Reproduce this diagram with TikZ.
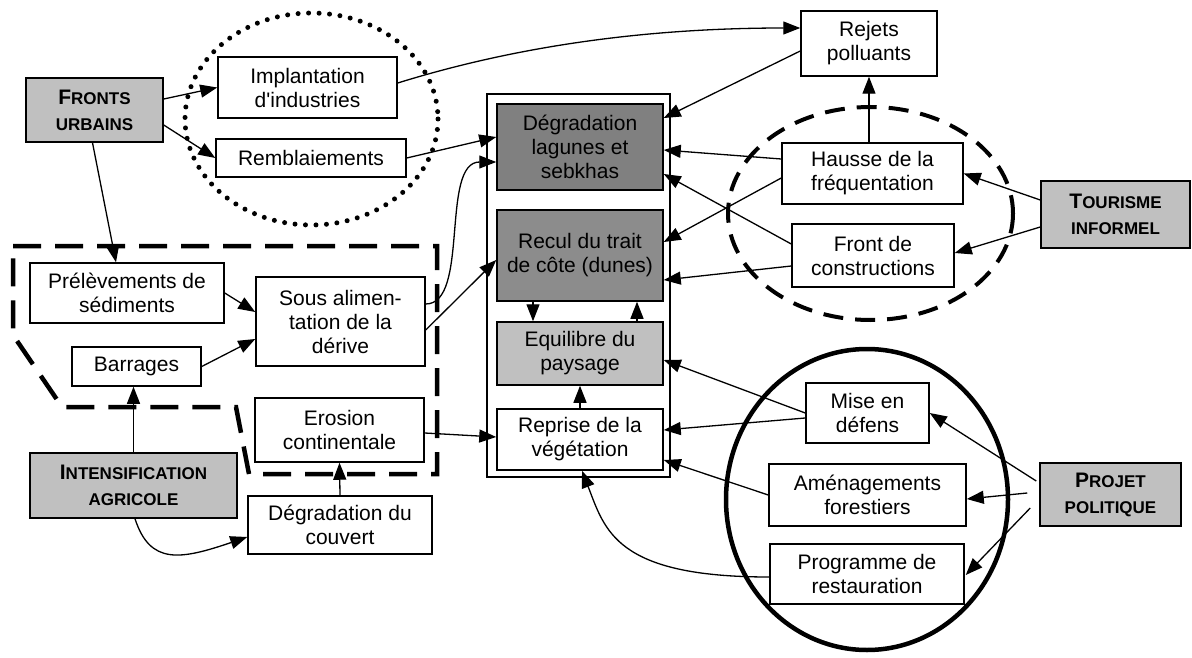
\documentclass[tikz,border=0pt]{standalone}
\usepackage{fontspec}
\newfontfamily\dfont{Liberation Sans}
\usetikzlibrary{arrows.meta,calc}
\definecolor{lgray}{RGB}{192,192,192}
\definecolor{dgray}{RGB}{128,128,128}
\definecolor{mgray}{RGB}{140,140,140}
\newcommand\hdr[2]{{\fontsize{21}{26}\selectfont #1}#2}
\begin{document}
\begin{tikzpicture}[x=1pt,y=-1pt,
  box/.style={draw,fill=white,line width=1.5pt,inner sep=0pt,align=center,font=\dfont\fontsize{21}{24}\selectfont},
  hbox/.style={box,fill=lgray,font=\dfont\bfseries\fontsize{17}{26}\selectfont},
  arr/.style={-{Triangle[length=17pt,width=13pt]},line width=1.3pt},
  ln/.style={line width=1.3pt}]
\useasboundingbox (0,0) rectangle (1192,658);

% groupings
\draw[line width=5pt,dash pattern=on 0pt off 10.5pt,line cap=round] (311.5,119) ellipse [x radius=126.5,y radius=106];
\draw[line width=4.5pt,dash pattern=on 28pt off 14pt] (13,246) -- (437,246) -- (437,474) -- (249,474) -- (236,407) -- (62,407) -- (13,335) -- cycle;
\draw[line width=4pt,dash pattern=on 20pt off 12pt] (870.5,213.5) ellipse [x radius=142.5,y radius=106.5];
\draw[line width=4.5pt] (867,499.5) ellipse [x radius=141,y radius=150.5];

% outer frame of the centre column
\node[draw,line width=1.5pt,minimum width=183pt,minimum height=383pt,inner sep=0pt] (frame) at (578.5,285.5) {};

% nodes
\node[hbox,minimum width=137pt,minimum height=64pt] (fronts) at (94.5,110) {\hdr{F}{RONTS}\\URBAINS};
\node[box,minimum width=179pt,minimum height=61pt] (impl) at (307.5,87.5) {Implantation\\d'industries};
\node[box,minimum width=190pt,minimum height=38pt] (rembl) at (311,158) {Remblaiements};
\node[box,minimum width=194pt,minimum height=60pt] (prel) at (127,293) {Prélèvements de\\sédiments};
\node[box,minimum width=169pt,minimum height=89pt] (sous) at (340.5,321.5) {Sous alimen-\\tation de la\\dérive};
\node[box,minimum width=129pt,minimum height=39pt] (barr) at (136.5,366.5) {Barrages};
\node[box,minimum width=169pt,minimum height=64pt] (eros) at (339.5,430) {Erosion\\continentale};
\node[hbox,minimum width=207pt,minimum height=65pt] (intens) at (133.5,485.5) {\hdr{I}{NTENSIFICATION}\\AGRICOLE};
\node[box,minimum width=184pt,minimum height=58pt] (degc) at (340,525) {Dégradation du\\couvert};

\node[box,fill=dgray,minimum width=166pt,minimum height=86pt] (lag) at (580,147) {Dégradation\\lagunes et\\sebkhas};
\node[box,fill=mgray,minimum width=166pt,minimum height=91pt] (recul) at (580,255.5) {Recul du trait\\de côte (dunes)};
\node[box,fill=lgray,minimum width=166pt,minimum height=63pt] (equi) at (580,353.5) {Equilibre du\\paysage};
\node[box,minimum width=166pt,minimum height=61pt] (repr) at (580,439.5) {Reprise de la\\végétation};

\node[box,minimum width=136pt,minimum height=65pt] (rejets) at (869,43.5) {Rejets\\polluants};
\node[box,minimum width=181pt,minimum height=61pt] (hausse) at (872.5,173.5) {Hausse de la\\fréquentation};
\node[box,minimum width=162pt,minimum height=63pt] (frontc) at (873,255.5) {Front de\\constructions};
\node[hbox,minimum width=149pt,minimum height=67pt] (tour) at (1115.5,214.5) {\hdr{T}{OURISME}\\INFORMEL};

\node[box,minimum width=123pt,minimum height=60pt] (mise) at (867.5,413) {Mise en\\défens};
\node[box,minimum width=197pt,minimum height=62pt] (amen) at (867.5,495) {Aménagements\\forestiers};
\node[box,minimum width=194pt,minimum height=60pt] (prog) at (867,574) {Programme de\\restauration};
\node[hbox,minimum width=141pt,minimum height=63pt] (projet) at (1110.5,494.5) {\hdr{P}{ROJET}\\POLITIQUE};

% connectors, left part
\draw[arr] ([yshift=11pt]fronts.east) -- (impl.west);
\draw[arr] ([yshift=-15pt]fronts.east) -- (rembl.west);
\draw[arr] ([xshift=-2pt]fronts.south) -- ([xshift=-11pt]prel.north);
\draw[arr] ([yshift=4.5pt]impl.east) .. controls (520,45) and (650,28) .. ([yshift=15.5pt]rejets.west);
\draw[arr] (rembl.east) -- ([yshift=10pt]lag.west);
\draw[arr] ([yshift=17.5pt]sous.east) .. controls (470,304) and (440,162) .. ([yshift=-15pt]lag.west);
\draw[arr] ([yshift=-8.5pt]sous.east) -- ([yshift=-4.5pt]recul.west);
\draw[arr] (prel.east) -- ([yshift=9.5pt]sous.west);
\draw[arr] (barr.east) -- ([yshift=-17.5pt]sous.west);
\draw[arr] (intens.north) -- (intens.north |- barr.south);
\draw[arr] ([xshift=1.5pt]intens.south) .. controls (150,565) and (180,560) .. ([yshift=-12pt]degc.west);
\draw[arr] (degc.north) -- (eros.south);
\draw[arr] ([yshift=-3pt]eros.east) -- ([yshift=2.5pt]repr.west);

% centre column
\draw[arr] ([xshift=-47pt]recul.south) -- ([xshift=-47pt]equi.north);
\draw[arr] ([xshift=57pt]equi.north) -- ([xshift=57pt]recul.south);
\draw[arr] (repr.north) -- (equi.south);

% right part, tourism
\draw[arr] ([yshift=-7.5pt]rejets.west) -- ([yshift=29pt]lag.east);
\draw[arr] (rejets.south |- hausse.north) -- (rejets.south);
\draw[arr] ([yshift=14.5pt]hausse.west) -- ([yshift=-3pt]lag.east);
\draw[arr] ([yshift=-4.5pt]hausse.west) -- ([yshift=13.5pt]recul.east);
\draw[arr] ([yshift=11.5pt]frontc.west) -- ([yshift=-27pt]lag.east);
\draw[arr] ([yshift=-10.5pt]frontc.west) -- ([yshift=-24.5pt]recul.east);
\draw[arr] ([yshift=14.5pt]tour.west) -- (hausse.east);
\draw[arr] ([yshift=-12.5pt]tour.west) -- ([yshift=2.5pt]frontc.east);

% right part, policy
\draw[arr] ([xshift=-3pt,yshift=13.5pt]projet.west) -- (mise.east);
\draw[arr] ([xshift=-12pt,yshift=1.5pt]projet.west) -- ([yshift=-4pt]amen.east);
\draw[arr] ([xshift=-9pt,yshift=-13.5pt]projet.west) -- ([xshift=1pt,yshift=-1pt]prog.east);
\draw[arr] (mise.west) -- ([yshift=-6.5pt]equi.east);
\draw[arr] ([yshift=-5pt]mise.west) -- ([yshift=9.5pt]repr.east);
\draw[arr] (amen.west) -- ([yshift=-20.5pt]repr.east);
\draw[arr] ([yshift=-3pt]prog.west) .. controls (615,577) and (605,530) .. ([xshift=2pt]repr.south);
\end{tikzpicture}
\end{document}
